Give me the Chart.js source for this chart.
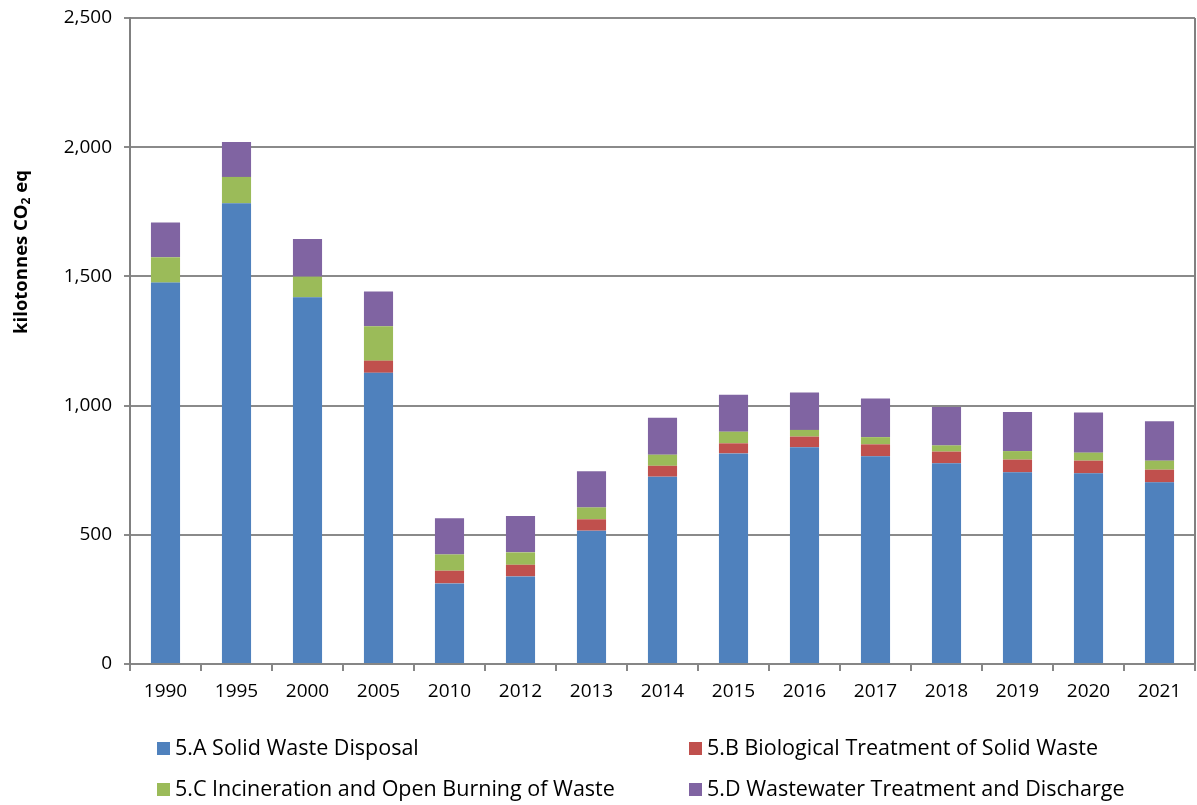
<!DOCTYPE html>
<html>
<head>
<meta charset="utf-8">
<script src="https://cdn.jsdelivr.net/npm/chart.js@4.4.1/dist/chart.umd.min.js"></script>
<style>
  html,body{margin:0;padding:0;background:#fff;}
  #wrap{position:relative;width:1197px;height:805px;}
  #c{position:absolute;left:0;top:0;}
  .lg{position:absolute;font-family:"Open Sans",sans-serif;font-size:21.5px;color:#000;white-space:nowrap;line-height:26px;}
  .lg span.box{display:inline-block;width:13px;height:13px;margin-right:5px;vertical-align:0px;}
</style>
</head>
<body>
<div id="wrap"><canvas id="c" width="1197" height="805"></canvas></div>
<script>
const categories = ["1990","1995","2000","2005","2010","2012","2013","2014","2015","2016","2017","2018","2019","2020","2021"];
const solidWaste   = [1476,1783,1419,1127,312,339,516,725,815,839,804,777,742,738,703];
const biological   = [0,0,0,47,49,45,44,42,39,41,46,45,49,49,49];
const incineration = [98,102,80,133,63,48,46,43,45,26,28,24,33,31,35];
const wastewater   = [135,135,146,135,140,141,140,143,143,145,149,149,151,155,152];
const seriesLabels = ["5.A Solid Waste Disposal","5.B Biological Treatment of Solid Waste","5.C Incineration and Open Burning of Waste","5.D Wastewater Treatment and Discharge"];
const yTicks = [0,500,1000,1500,2000,2500];

const colors = ["#4F81BD","#C0504D","#9BBB59","#8064A2"];
const FONT = "Open Sans";

const sideLines = {
  id:'sideLines',
  afterDraw(chart){
    const {ctx, chartArea:a} = chart;
    ctx.save();
    ctx.strokeStyle = '#808080';
    ctx.lineWidth = 2;
    ctx.beginPath();
    ctx.moveTo(a.right, a.top); ctx.lineTo(a.right, a.bottom);
    ctx.stroke();
    // y axis title with subscript
    ctx.translate(22, 252);
    ctx.rotate(-Math.PI/2);
    ctx.fillStyle = '#000';
    ctx.textBaseline = 'middle';
    const big = 'bold 18.5px "'+FONT+'"', small = 'bold 12px "'+FONT+'"';
    const p1 = 'kilotonnes CO', p2 = '2', p3 = ' eq';
    ctx.font = big; const w1 = ctx.measureText(p1).width, w3 = ctx.measureText(p3).width;
    ctx.font = small; const w2 = ctx.measureText(p2).width;
    let x = -(w1+w2+w3)/2;
    ctx.font = big; ctx.textAlign='left'; ctx.fillText(p1, x, 0); x += w1;
    ctx.font = small; ctx.fillText(p2, x, 5); x += w2;
    ctx.font = big; ctx.fillText(p3, x, 0);
    ctx.restore();
  }
};

const seriesData = [solidWaste, biological, incineration, wastewater];
const chart = new Chart(document.getElementById('c'), {
  type:'bar',
  data:{
    labels: categories,
    datasets: seriesData.map((d,i)=>({
      label: seriesLabels[i], data: d, backgroundColor: colors[i],
      borderWidth: 0, barPercentage: 0.41, categoryPercentage: 1.0
    }))
  },
  options:{
    responsive:false, animation:false,
    layout:{padding:{top:18,right:2,left:0,bottom:0}},
    plugins:{legend:{display:false}, tooltip:{enabled:false}},
    scales:{
      x:{
        stacked:true,
        grid:{offset:true, drawOnChartArea:false, drawTicks:true, tickLength:7, color:'#868686', lineWidth:2},
        border:{color:'#868686', width:2},
        ticks:{font:{family:FONT,size:19}, color:'#000', padding:9, maxRotation:0},
        afterFit(s){ s.height = 805-664; }
      },
      y:{
        stacked:true, min:0, max:2500,
        afterBuildTicks(s){ s.ticks = yTicks.map(v=>({value:v})); },
        grid:{color:'#8a8a8a', lineWidth:2, drawTicks:true, tickLength:6},
        border:{color:'#808080', width:2},
        ticks:{font:{family:FONT,size:19, lineHeight:0.6}, color:'#000', padding:12,
          callback:v=>v.toLocaleString('en-US')},
        afterFit(s){ s.width = 130; s.paddingTop = 0; s.paddingBottom = 0; }
      }
    }
  },
  plugins:[sideLines]
});

// legend (HTML) built from series labels/colors
const legendPos = [[157,734],[689,734],[157,775],[689,775]];
const wrap = document.getElementById('wrap');
seriesLabels.forEach((l,i)=>{
  const d = document.createElement('div');
  d.className='lg';
  d.style.left = legendPos[i][0]+'px';
  d.style.top = legendPos[i][1]+'px';
  d.innerHTML = '<span class="box" style="background:'+colors[i]+'"></span>'+l;
  wrap.appendChild(d);
});
</script>
</body>
</html>
